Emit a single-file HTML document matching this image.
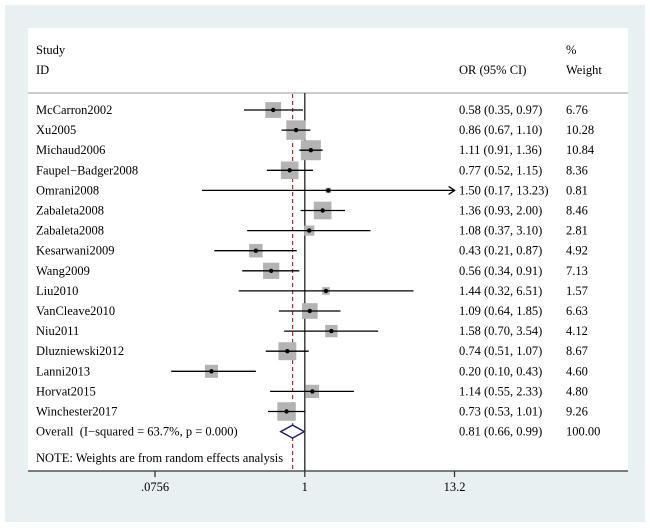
<!DOCTYPE html>
<html><head><meta charset="utf-8"><style>
html,body{margin:0;padding:0;background:#fff;}
svg{display:block;}
svg text{font-family:"Liberation Serif","Times New Roman",serif;}
</style></head><body>
<svg id="chart" width="650" height="529" viewBox="0 0 650 529" xmlns="http://www.w3.org/2000/svg" font-family="Liberation Serif, serif">
<rect x="5" y="5" width="640" height="517" fill="#e8f0f2"/>
<rect x="28" y="28" width="600" height="443" fill="#ffffff"/>
<text x="36" y="54" font-size="12.5">Study</text>
<text x="36" y="74" font-size="12.5">ID</text>
<text x="459" y="74" font-size="12.5">OR (95% CI)</text>
<text x="566" y="54" font-size="12.5">%</text>
<text x="566" y="74" font-size="12.5">Weight</text>
<line x1="28" y1="93" x2="628" y2="93" stroke="#cccccc" stroke-width="2"/>
<g id="marks"></g>
<text x="36" y="462" font-size="12.5">NOTE: Weights are from random effects analysis</text>
<line x1="28" y1="471" x2="628" y2="471" stroke="#333" stroke-width="1.3"/>
<g id="ticks"></g>
</svg>
<script>
const studies=["McCarron2002","Xu2005","Michaud2006","Faupel\u2212Badger2008","Omrani2008","Zabaleta2008","Zabaleta2008","Kesarwani2009","Wang2009","Liu2010","VanCleave2010","Niu2011","Dluzniewski2012","Lanni2013","Horvat2015","Winchester2017"];
const orVals=[0.58,0.86,1.11,0.77,1.50,1.36,1.08,0.43,0.56,1.44,1.09,1.58,0.74,0.20,1.14,0.73];
const lowerCI=[0.35,0.67,0.91,0.52,0.17,0.93,0.37,0.21,0.34,0.32,0.64,0.70,0.51,0.10,0.55,0.53];
const upperCI=[0.97,1.10,1.36,1.15,13.23,2.00,3.10,0.87,0.91,6.51,1.85,3.54,1.07,0.43,2.33,1.01];
const weights=[6.76,10.28,10.84,8.36,0.81,8.46,2.81,4.92,7.13,1.57,6.63,4.12,8.67,4.60,4.80,9.26];
const overall=[0.81,0.66,0.99];
const overallLabel="Overall\u00a0 (I\u2212squared = 63.7%, p = 0.000)";
const tickVals=[0.0756,1,13.2];
const tickLabels=[".0756","1","13.2"];
const NS="http://www.w3.org/2000/svg";
const xMin=0.0756,xMax=13.2,pxMin=155,pxMax=454.5;
function xs(v){return pxMin+(Math.log(v)-Math.log(xMin))/(Math.log(xMax)-Math.log(xMin))*(pxMax-pxMin);}
function ys(i){return 110+i*20.1;}
function mk(tag,attrs,parent){const e=document.createElementNS(NS,tag);for(const k in attrs)e.setAttribute(k,attrs[k]);parent.appendChild(e);return e;}
const g=document.getElementById('marks');
const fmt=v=>v.toFixed(2);
const FS=12.5;
let l=mk('line',{x1:xs(1),y1:93,x2:xs(1),y2:471,stroke:'#222','stroke-width':1.3},g);


l=mk('line',{x1:xs(overall[0]),y1:94,x2:xs(overall[0]),y2:471,stroke:'#c0282d','stroke-width':1.2,'stroke-dasharray':'4,3'},g);


studies.forEach((s,i)=>{
  const y=ys(i);
  const side=20*Math.sqrt(weights[i]/10.84);
  const b=mk('rect',{x:xs(orVals[i])-side/2,y:y-side/2,width:side,height:side,fill:'#b3b3b3'},g);
  
  
  const hiV=Math.min(upperCI[i],xMax*1.003);
  const ci=mk('line',{x1:xs(lowerCI[i]),y1:y,x2:xs(hiV),y2:y,stroke:'#000','stroke-width':1.3},g);
  
  
  if(upperCI[i]>xMax){
    const a=mk('path',{d:`M${xs(hiV)-6},${y-4} L${xs(hiV)},${y} L${xs(hiV)-6},${y+4}`,fill:'none',stroke:'#000','stroke-width':1.3},g);
    
    
  }
  const p=mk('circle',{cx:xs(orVals[i]),cy:y,r:2.2,fill:'#000'},g);
  
  
  let t=mk('text',{x:36,y:y+4,'font-size':FS},g);t.textContent=s;
  
  
  t=mk('text',{x:459,y:y+4,'font-size':FS},g);t.textContent=`${fmt(orVals[i])} (${fmt(lowerCI[i])}, ${fmt(upperCI[i])})`;
  
  
  t=mk('text',{x:566,y:y+4,'font-size':FS},g);t.textContent=fmt(weights[i]);
  
  
});
const yo=ys(studies.length);
const d=mk('polygon',{points:`${xs(overall[1])},${yo} ${xs(overall[0])},${yo-6.5} ${xs(overall[2])},${yo} ${xs(overall[0])},${yo+6.5}`,fill:'#fff',stroke:'#1a1a6e','stroke-width':1.4},g);


let t=mk('text',{x:36,y:yo+4,'font-size':FS},g);t.textContent=overallLabel;


t=mk('text',{x:459,y:yo+4,'font-size':FS},g);t.textContent=`${fmt(overall[0])} (${fmt(overall[1])}, ${fmt(overall[2])})`;


t=mk('text',{x:566,y:yo+4,'font-size':FS},g);t.textContent="100.00";


const tg=document.getElementById('ticks');
tickVals.forEach((v,i)=>{
  const tk=mk('line',{x1:xs(v),y1:471,x2:xs(v),y2:477,stroke:'#333','stroke-width':1.3},tg);
  
  
  const lb=mk('text',{x:xs(v),y:491,'font-size':FS,'text-anchor':'middle'},tg);lb.textContent=tickLabels[i];
  
  
});
</script>
</body></html>
